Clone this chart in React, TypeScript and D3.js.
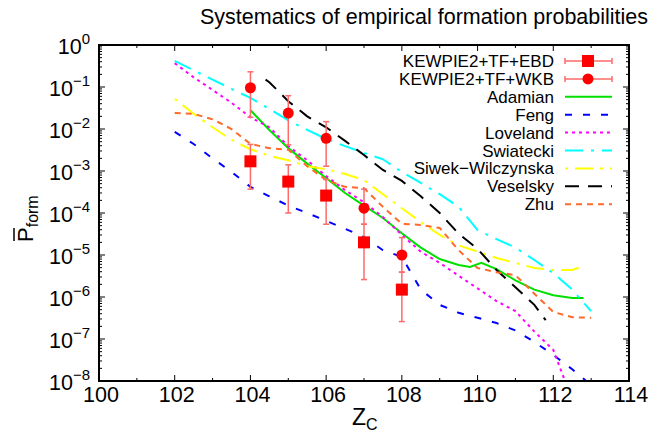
import React from "react";
import { scaleLinear, scaleLog, line } from "d3";

// Z grid used by most of the model curves
const zGrid = [102, 102.5, 103, 103.5, 104, 104.5, 105, 105.5, 106, 106.5, 107, 107.5, 108, 108.5, 109, 109.5, 110, 110.5, 111, 111.5, 112, 112.5, 113];

const swiatecki = [4.2e-1, 2.5e-1, 1.5e-1, 9.0e-2, 5.5e-2, 3.0e-2, 1.6e-2, 9.5e-3, 5.8e-3, 3.9e-3, 2.7e-3, 1.9e-3, 9.5e-4, 5.2e-4, 2.8e-4, 1.4e-4, 3.9e-5, 2.4e-5, 1.5e-5, 7.6e-6, 3.7e-6, 1.5e-6, 4.6e-7];
const feng = [8.5e-3, 4.4e-3, 2.0e-3, 9.5e-4, 4.2e-4, 2.5e-4, 1.5e-4, 1.0e-4, 6.5e-5, 4.2e-5, 2.7e-5, 1.3e-5, 9.0e-6, 1.5e-6, 6.5e-7, 4.2e-7, 3.2e-7, 2.4e-7, 1.6e-7, 8.5e-8, 4.2e-8, 1.9e-8, 8.0e-9];
const loveland = [3.7e-1, 1.7e-1, 8.5e-2, 4.2e-2, 1.9e-2, 1.1e-2, 3.9e-3, 1.8e-3, 7.6e-4, 3.5e-4, 1.8e-4, 8.0e-5, 3.0e-5, 1.2e-5, 6.5e-6, 3.2e-6, 1.6e-6, 8.0e-7, 4.6e-7, 1.5e-7, 5.5e-8, 3.5e-9, null];
const siwek = [5.2e-2, 2.3e-2, 1.1e-2, 5.5e-3, 3.3e-3, 2.3e-3, 1.8e-3, 1.3e-3, 1.1e-3, 8.5e-4, 6.1e-4, 2.8e-4, 1.3e-4, 6.1e-5, 3.0e-5, 1.7e-5, 1.2e-5, 8.5e-6, 6.5e-6, 4.9e-6, 4.4e-6, 4.4e-6, null];
const zhu = [2.4e-2, 2.3e-2, 1.7e-2, 1.0e-2, 4.4e-3, 3.5e-3, 3.2e-3, 1.3e-3, 6.1e-4, 4.2e-4, 3.9e-4, 1.4e-4, 5.5e-5, 5.2e-5, 4.4e-5, 1.3e-5, 4.9e-6, 3.9e-6, 3.3e-6, 1.2e-6, 4.4e-7, 3.3e-7, 3.2e-7];

const siwekEndZ = [112.8];
const siwekEnd = [5.5e-6];

const adamianZ = [104, 104.5, 105, 105.5, 106, 106.5, 107, 107.5, 108, 108.5, 109, 109.5, 109.8, 110.1, 110.5, 111, 111.5, 112, 112.5, 112.8];
const adamian = [2.8e-2, 9.5e-3, 3.5e-3, 1.5e-3, 6.8e-4, 3.0e-4, 1.5e-4, 7.6e-5, 3.3e-5, 1.5e-5, 8.0e-6, 5.8e-6, 5.2e-6, 6.5e-6, 4.6e-6, 2.5e-6, 1.5e-6, 1.1e-6, 9.5e-7, 9.5e-7];

const veselskyZ = [104.4, 104.5, 105, 105.5, 106, 106.5, 107, 107.5, 108, 108.5, 109, 109.5, 110, 110.5, 111, 111.5, 111.8];
const veselsky = [1.5e-1, 1.3e-1, 4.6e-2, 2.0e-2, 1.1e-2, 5.2e-3, 2.4e-3, 1.06e-3, 5.8e-4, 2.5e-4, 1.0e-4, 3.2e-5, 1.4e-5, 4.4e-6, 1.7e-6, 6.5e-7, 2.8e-7];

// KEWPIE2 points with error bars
const kewZ = [104, 105, 106, 107, 108];
const ebd = [1.7e-3, 5.6e-4, 2.6e-4, 2.0e-5, 1.5e-6];
const ebdHi = [4.3e-3, 1.4e-3, 6.3e-4, 5.4e-5, 3.9e-6];
const ebdLo = [3.7e-4, 1.0e-4, 5.4e-5, 2.6e-6, 2.6e-7];
const wkb = [9.6e-2, 2.4e-2, 6.0e-3, 1.3e-4, 1.0e-5];
const wkbHi = [2.3e-1, 6.2e-2, 1.5e-2, 3.7e-4, 2.6e-5];
const wkbLo = [1.9e-2, 4.2e-3, 1.3e-3, 5.4e-5, 3.9e-6];

const xTicks = [100, 102, 104, 106, 108, 110, 112, 114];
const yExps = [0, -1, -2, -3, -4, -5, -6, -7, -8];

const W = 669;
const H = 436;
const left = 99;
const right = 629;
const top = 45;
const bottom = 381;
const font = "'Liberation Sans', Arial, Helvetica, sans-serif";

const x = scaleLinear().domain([100, 114]).range([left, right]);
const y = scaleLog().domain([1e-8, 1]).range([bottom, top]);

type Pt = [number, number | null];
const path = line<Pt>()
  .defined((d) => d[1] != null)
  .x((d) => x(d[0]))
  .y((d) => y(d[1] as number));
const zip = (zs: number[], ps: (number | null)[]): Pt[] => zs.map((z, i) => [z, ps[i]]);

const series = [
  { name: "Adamian", color: "#00e000", dash: "none", pts: zip(adamianZ, adamian) },
  { name: "Feng", color: "#0000ff", dash: "7,11", pts: zip(zGrid, feng) },
  { name: "Loveland", color: "#ff00ff", dash: "3,4", pts: zip(zGrid, loveland) },
  { name: "Swiatecki", color: "#00ffff", dash: "18,8,3,8", pts: zip(zGrid, swiatecki) },
  { name: "Siwek\u2212Wilczynska", color: "#ffff00", dash: "3,7,18,7", pts: zip(zGrid, siwek).filter((d) => d[1] != null).concat(zip(siwekEndZ, siwekEnd)) },
  { name: "Veselsky", color: "#000000", dash: "14,9", pts: zip(veselskyZ, veselsky) },
  { name: "Zhu", color: "#ff6a2a", dash: "6,5", pts: zip(zGrid, zhu) },
];

const ErrBar = ({ cx, lo, hi }: { cx: number; lo: number; hi: number }) => (
  <g stroke="#ff6a6a" strokeWidth={1.5}>
    <line x1={cx} x2={cx} y1={y(lo)} y2={y(hi)} />
    <line x1={cx - 3} x2={cx + 3} y1={y(lo)} y2={y(lo)} />
    <line x1={cx - 3} x2={cx + 3} y1={y(hi)} y2={y(hi)} />
  </g>
);

export default function App() {
  const minor: number[] = [];
  for (let e = -8; e < 0; e++) for (let m = 2; m <= 9; m++) minor.push(m * Math.pow(10, e));
  const legendTop = 61;
  const rowH = 17.9;
  return (
    <svg width={W} height={H} style={{ position: "absolute", left: 0, top: 0, background: "#fff" }} fontFamily={font}>
      <defs>
        <clipPath id="plot">
          <rect x={left} y={top} width={right - left} height={bottom - top} />
        </clipPath>
      </defs>
      <text x={424} y={24} textAnchor="middle" fontSize={21.5}>
        Systematics of empirical formation probabilities
      </text>

      {/* ticks */}
      <g stroke="#000" strokeWidth={1}>
        {xTicks.map((t) => (
          <g key={t}>
            <line x1={x(t)} x2={x(t)} y1={bottom} y2={bottom - 6} />
            <line x1={x(t)} x2={x(t)} y1={top} y2={top + 6} />
          </g>
        ))}
        {xTicks.slice(0, -1).map((t) => (
          <g key={"m" + t}>
            <line x1={x(t + 1)} x2={x(t + 1)} y1={bottom} y2={bottom - 3} />
            <line x1={x(t + 1)} x2={x(t + 1)} y1={top} y2={top + 3} />
          </g>
        ))}
        {yExps.map((e) => (
          <g key={e}>
            <line x1={left} x2={left + 6} y1={y(Math.pow(10, e))} y2={y(Math.pow(10, e))} />
            <line x1={right} x2={right - 6} y1={y(Math.pow(10, e))} y2={y(Math.pow(10, e))} />
          </g>
        ))}
        {minor.map((v, i) => (
          <g key={"ym" + i}>
            <line x1={left} x2={left + 3} y1={y(v)} y2={y(v)} />
            <line x1={right} x2={right - 3} y1={y(v)} y2={y(v)} />
          </g>
        ))}
      </g>

      {/* tick labels */}
      {xTicks.map((t) => (
        <text key={t} x={x(t) + 2} y={402} textAnchor="middle" fontSize={21.5}>
          {t}
        </text>
      ))}
      {yExps.map((e) => (
        <text key={e} x={90} y={y(Math.pow(10, e)) + 9} textAnchor="end" fontSize={21.5}>
          10
          <tspan dy={-10} fontSize={15}>
            {e === 0 ? "0" : "\u2212" + -e}
          </tspan>
        </text>
      ))}

      {/* axis labels */}
      <text x={352} y={425} fontSize={23}>
        Z<tspan dy={5} fontSize={16}>C</tspan>
      </text>
      <g transform="translate(33,242) rotate(-90)">
        <text x={0} y={0} fontSize={22}>
          P<tspan dy={5} fontSize={16}>form</tspan>
        </text>
        <line x1={1} x2={14} y1={-19} y2={-19} stroke="#000" strokeWidth={1.5} />
      </g>

      {/* model curves */}
      <g clipPath="url(#plot)" fill="none" strokeWidth={2}>
        {series.map((s) => (
          <path key={s.name} d={path(s.pts) || ""} stroke={s.color} strokeDasharray={s.dash} />
        ))}
        {kewZ.map((z, i) => (
          <g key={"e" + z}>
            <ErrBar cx={x(z)} lo={ebdLo[i]} hi={ebdHi[i]} />
            <ErrBar cx={x(z)} lo={wkbLo[i]} hi={wkbHi[i]} />
          </g>
        ))}
        {kewZ.map((z, i) => (
          <g key={"p" + z} fill="#ff0000" stroke="none">
            <rect x={x(z) - 6} y={y(ebd[i]) - 6} width={12} height={12} />
            <circle cx={x(z)} cy={y(wkb[i])} r={5.5} />
          </g>
        ))}
      </g>

      {/* frame */}
      <rect x={left} y={top} width={right - left} height={bottom - top} fill="none" stroke="#000" strokeWidth={2} />

      {/* legend */}
      <g fontSize={17}>
        {["KEWPIE2+TF+EBD", "KEWPIE2+TF+WKB"].map((n, i) => {
          const ly = legendTop + i * rowH;
          return (
            <g key={n}>
              <text x={554} y={ly + 6} textAnchor="end">
                {n}
              </text>
              <g stroke="#ff6a6a" strokeWidth={1.5}>
                <line x1={565} x2={612} y1={ly} y2={ly} />
                <line x1={565} x2={565} y1={ly - 3} y2={ly + 3} />
                <line x1={612} x2={612} y1={ly - 3} y2={ly + 3} />
              </g>
              {i === 0 ? (
                <rect x={582} y={ly - 6} width={12} height={12} fill="#ff0000" />
              ) : (
                <circle cx={588} cy={ly} r={5.5} fill="#ff0000" />
              )}
            </g>
          );
        })}
        {series.map((s, i) => {
          const ly = legendTop + (i + 2) * rowH;
          return (
            <g key={s.name}>
              <text x={554} y={ly + 6} textAnchor="end">
                {s.name}
              </text>
              <line x1={565} x2={612} y1={ly} y2={ly} stroke={s.color} strokeWidth={2} strokeDasharray={s.dash} />
            </g>
          );
        })}
      </g>
    </svg>
  );
}
